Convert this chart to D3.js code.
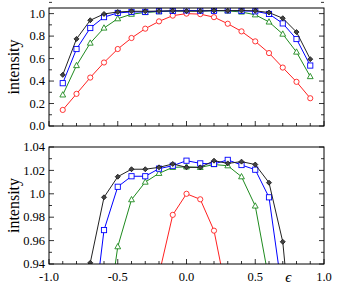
<!DOCTYPE html>
<html><head><meta charset="utf-8">
<script src="https://cdn.jsdelivr.net/npm/d3@7"></script>
<style>body{margin:0;background:#fff}svg{display:block}text{font-family:"Liberation Serif","Times New Roman",serif;fill:#000}</style>
</head><body><svg id="c" width="338" height="286"></svg>
<script>
const eps = [-0.9,-0.8,-0.7,-0.6,-0.5,-0.4,-0.3,-0.2,-0.1,0.0,0.1,0.2,0.3,0.4,0.5,0.6,0.7,0.8,0.9];
const black = [0.455,0.775,0.941,0.997,1.0146,1.021,1.021,1.0226,1.0255,1.0226,1.0226,1.0283,1.026,1.0275,1.025,1.0095,0.959,0.836,0.595];
const blue  = [0.381,0.685,0.872,0.969,1.006,1.015,1.015,1.0215,1.024,1.0283,1.026,1.0255,1.029,1.0246,1.0206,0.997,0.913,0.774,0.538];
const green = [0.277,0.538,0.738,0.872,0.9548,0.995,1.01,1.0175,1.0226,1.023,1.0226,1.025,1.024,1.0146,0.9896,0.926,0.818,0.658,0.44];
const red   = [0.143,0.286,0.431,0.565,0.685,0.783,0.866,0.931,0.982,1.0,0.9953,0.9685,0.91,0.842,0.753,0.649,0.52,0.393,0.247];
const xTickLabels = ["-1.0","-0.5","0.0","0.5","1.0"];
const topYTicks = ["0.0","0.2","0.4","0.6","0.8","1.0"];
const botYTicks = ["0.94","0.96","0.98","1.0","1.02","1.04"];

const series = [
  {v: green, color:"#1e8a1e", shape:"tri"},
  {v: red, color:"#ff2020", shape:"circ"},
  {v: blue, color:"#0000ff", shape:"sq"},
  {v: black, color:"#222", shape:"dia"}
];

const svg = d3.select("#c");
const L = 49, R = 324;
const x = d3.scaleLinear().domain([-1,1]).range([L,R]);

function panel(id, top, bottom, ydom, yMajor, yMinor, yLabels, showX){
  const y = d3.scaleLinear().domain(ydom).range([bottom, top]);
  const g = svg.append("g");
  g.append("clipPath").attr("id",id).append("rect").attr("x",L).attr("y",top).attr("width",R-L).attr("height",bottom-top);
  const xt = d3.range(-10,11).map(d=>d/10);
  g.selectAll(".xt").data(xt).join("line")
    .attr("x1",d=>x(d)).attr("x2",d=>x(d))
    .attr("y1",bottom).attr("y2",d=>bottom-(Math.abs(d*2-Math.round(d*2))<1e-6?5:3))
    .attr("stroke","#000").attr("stroke-width",0.8);
  const yt = d3.range(Math.round(ydom[0]/yMinor), Math.round(ydom[1]/yMinor)+1).map(d=>d*yMinor);
  const isMaj = d => Math.abs(d/yMajor - Math.round(d/yMajor))<1e-6;
  g.selectAll(".yl").data(yt).join("line")
    .attr("x1",L).attr("x2",d=>L+(isMaj(d)?5:3)).attr("y1",d=>y(d)).attr("y2",d=>y(d))
    .attr("stroke","#000").attr("stroke-width",0.8);
  g.selectAll(".yr").data(yt).join("line")
    .attr("x1",R).attr("x2",d=>R-(isMaj(d)?5:3)).attr("y1",d=>y(d)).attr("y2",d=>y(d))
    .attr("stroke","#000").attr("stroke-width",0.8);
  const majVals = yt.filter(isMaj);
  g.selectAll(".ylab").data(majVals).join("text")
    .attr("x",L-4).attr("y",d=>y(d)+4.2).attr("text-anchor","end").attr("font-size",12.5)
    .text((d,i)=>yLabels[i]);
  const pg = g.append("g").attr("clip-path",`url(#${id})`);
  const line = d3.line().x((d,i)=>x(eps[i])).y(d=>y(d));
  series.forEach(s=>{
    pg.append("path").attr("d",line(s.v)).attr("fill","none").attr("stroke",s.color).attr("stroke-width",1);
    const m = pg.selectAll(null).data(s.v).join("g").attr("transform",(d,i)=>`translate(${x(eps[i])},${y(d)})`);
    if(s.shape==="circ") m.append("circle").attr("r",2.6).attr("fill","#fff").attr("stroke",s.color).attr("stroke-width",0.9);
    if(s.shape==="sq") m.append("rect").attr("x",-2.6).attr("y",-2.6).attr("width",5.2).attr("height",5.2).attr("fill","#fff").attr("stroke",s.color).attr("stroke-width",0.9);
    if(s.shape==="tri") m.append("path").attr("d","M0,-3.2L2.9,2.1L-2.9,2.1Z").attr("fill","#fff").attr("stroke",s.color).attr("stroke-width",0.9);
    if(s.shape==="dia") m.append("path").attr("d","M0,-2.5L2.5,0L0,2.5L-2.5,0Z").attr("fill","#444").attr("stroke","#111").attr("stroke-width",0.8);
  });
  g.append("rect").attr("x",L).attr("y",top).attr("width",R-L).attr("height",bottom-top)
    .attr("fill","none").attr("stroke","#000").attr("stroke-width",1);
  g.append("text").attr("transform",`translate(19,${(top+bottom)/2}) rotate(-90)`)
    .attr("text-anchor","middle").attr("font-size",16).text("intensity");
  if(showX){
    g.selectAll(".xlab").data([-1,-0.5,0,0.5,1]).join("text")
      .attr("x",d=>x(d)).attr("y",bottom+17).attr("text-anchor","middle").attr("font-size",12.5)
      .text((d,i)=>xTickLabels[i]);
    g.append("text").attr("x",x(0.74)).attr("y",bottom+18).attr("text-anchor","middle")
      .attr("font-size",15).attr("font-style","italic").text("ϵ");
  }
}
panel("cp1", 8, 126, [0,1.05], 0.2, 0.1, topYTicks, false);
panel("cp2", 147, 264, [0.94,1.04], 0.02, 0.01, botYTicks, true);
</script></body></html>
